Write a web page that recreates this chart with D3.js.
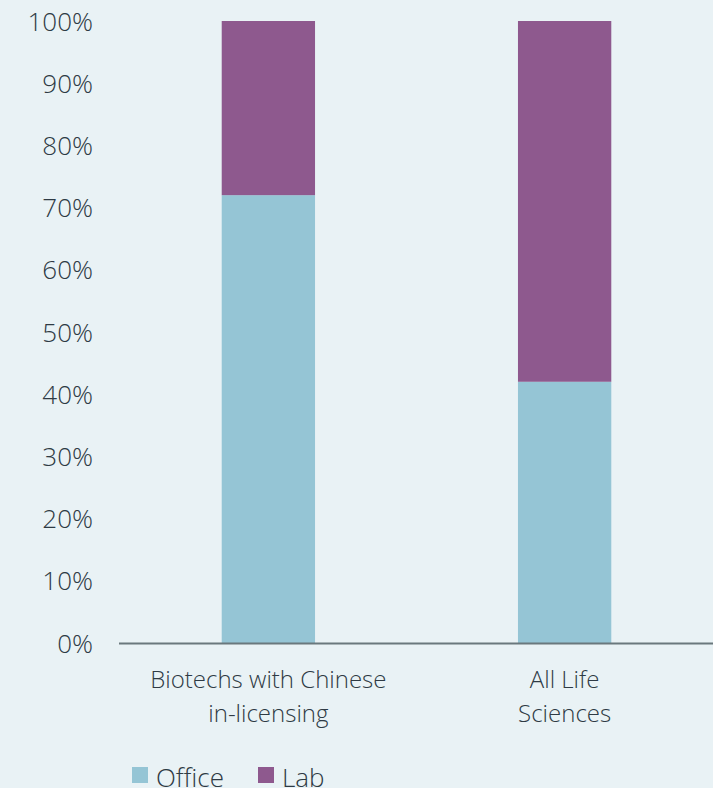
<!DOCTYPE html>
<html>
<head>
<meta charset="utf-8">
<script src="https://cdn.jsdelivr.net/npm/d3@7"></script>
<style>
  html, body { margin: 0; padding: 0; background: #e9f2f5; }
  svg { display: block; }
  text { font-family: "Open Sans", "Noto Sans", sans-serif; font-weight: 300; fill: #2e3a44; }
</style>
</head>
<body>
<script>
// Share of space type, per company group
const categories = [["Biotechs with Chinese", "in-licensing"], ["All Life", "Sciences"]];
const seriesNames = ["Office", "Lab"];
const officeValues = [72, 42];
const labValues = [28, 58];
const tickValues = [0, 10, 20, 30, 40, 50, 60, 70, 80, 90, 100];
const colors = ["#95c5d5", "#8e598e"];

const W = 713, H = 788;
const svg = d3.select("body").append("svg").attr("width", W).attr("height", H);

const x = d3.scaleBand()
  .domain(categories.map((d, i) => i))
  .range([119.5, 713.5])
  .paddingInner(0.685)
  .paddingOuter(0.345);

const y = d3.scaleLinear().domain([0, 100]).range([643, 21]);

const rows = categories.map((c, i) => ({ i, Office: officeValues[i], Lab: labValues[i] }));
const stacked = d3.stack().keys(seriesNames)(rows);

svg.append("g").selectAll("g")
  .data(stacked)
  .join("g")
  .attr("fill", (d, k) => colors[k])
  .selectAll("rect")
  .data(d => d)
  .join("rect")
  .attr("x", d => x(d.data.i))
  .attr("width", x.bandwidth())
  .attr("y", d => y(d[1]))
  .attr("height", d => y(d[0]) - y(d[1]));

// y axis labels only
const yAxis = svg.append("g")
  .attr("transform", "translate(93,0)")
  .call(d3.axisLeft(y).tickValues(tickValues).tickFormat(d => d + "%").tickSize(0).tickPadding(0));
yAxis.select(".domain").remove();
yAxis.selectAll("text")
  .attr("font-size", 26)
  .attr("font-family", null)
  .attr("fill", "#2e3a44")
  .attr("dy", "0.35em");

// baseline
svg.append("line")
  .attr("x1", 119).attr("x2", 713)
  .attr("y1", y(0) + 0.5).attr("y2", y(0) + 0.5)
  .attr("stroke", "#6a787d").attr("stroke-width", 2);

// category labels
const cat = svg.append("g").selectAll("text")
  .data(categories)
  .join("text")
  .attr("text-anchor", "middle")
  .attr("font-size", 24)
  .attr("transform", (d, i) => `translate(${x(i) + x.bandwidth() / 2},688)`);
cat.selectAll("tspan")
  .data(d => d)
  .join("tspan")
  .attr("x", 0)
  .attr("dy", (d, j) => j === 0 ? 0 : 34)
  .text(d => d);

// legend
const legendX = [132, 258];
const lg = svg.append("g").selectAll("g")
  .data(seriesNames)
  .join("g")
  .attr("transform", (d, i) => `translate(${legendX[i]},767)`);
lg.append("rect").attr("width", 16).attr("height", 16).attr("fill", (d, i) => colors[i]);
lg.append("text").attr("x", 24).attr("y", 20).attr("font-size", 26).text(d => d);
</script>
</body>
</html>
